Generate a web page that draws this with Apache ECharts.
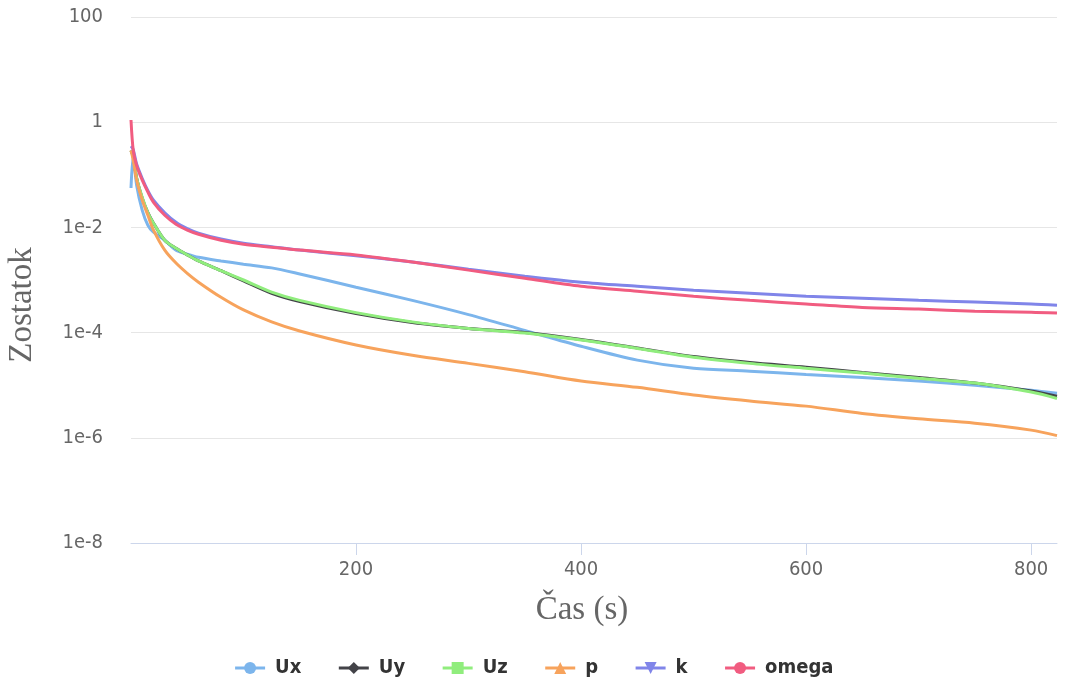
<!DOCTYPE html>
<html>
<head>
<meta charset="utf-8">
<script src="https://cdn.jsdelivr.net/npm/echarts@6/dist/echarts.min.js"></script>
<style>
  html, body { margin: 0; padding: 0; background: #fff; }
  #chart { width: 1067px; height: 686px; }
</style>
</head>
<body>
<div id="chart"></div>
<script>
// time steps (s)
var times = [0, 2, 5, 10, 15, 20, 30, 40, 50, 60, 80, 100, 125, 150, 200, 250, 300, 350, 400, 450, 500, 550, 600, 650, 700, 750, 800, 823]

var ux = [0.056, 0.23, 0.063, 0.021, 0.011, 0.0081, 0.0057, 0.0037, 0.0031, 0.0027, 0.0023, 0.0020, 0.0017, 0.0013, 7.3e-4, 4.1e-4, 2.2e-4, 1.1e-4, 5.5e-5, 3.0e-5, 2.1e-5, 1.85e-5, 1.6e-5, 1.4e-5, 1.2e-5, 1.0e-5, 8e-6, 7e-6]
var uy = [0.29, 0.22, 0.087, 0.036, 0.019, 0.012, 0.0057, 0.0040, 0.0030, 0.0023, 0.0015, 9.6e-4, 5.6e-4, 3.9e-4, 2.3e-4, 1.55e-4, 1.2e-4, 1.0e-4, 7.4e-5, 5.1e-5, 3.5e-5, 2.7e-5, 2.2e-5, 1.75e-5, 1.4e-5, 1.1e-5, 7.8e-6, 6.2e-6]
var uz = [0.29, 0.22, 0.087, 0.037, 0.019, 0.012, 0.0057, 0.0040, 0.0030, 0.0023, 0.0015, 0.0010, 5.9e-4, 4.1e-4, 2.4e-4, 1.6e-4, 1.2e-4, 9.8e-5, 7.2e-5, 5.0e-5, 3.4e-5, 2.6e-5, 2.1e-5, 1.7e-5, 1.35e-5, 1.1e-5, 7.4e-6, 5.6e-6]
var p = [0.29, 0.19, 0.079, 0.033, 0.017, 0.0089, 0.0037, 0.0021, 0.00134, 9.1e-4, 4.7e-4, 2.7e-4, 1.6e-4, 1.07e-4, 5.8e-5, 3.7e-5, 2.6e-5, 1.8e-5, 1.2e-5, 9.1e-6, 6.5e-6, 5.0e-6, 4.0e-6, 2.9e-6, 2.3e-6, 1.9e-6, 1.4e-6, 1.1e-6]
var k = [0.35, 0.3, 0.16, 0.085, 0.05, 0.033, 0.019, 0.0125, 0.0095, 0.0078, 0.006, 0.005, 0.0043, 0.0037, 0.0029, 0.0022, 0.0016, 0.00118, 9.1e-4, 7.6e-4, 6.4e-4, 5.6e-4, 4.9e-4, 4.5e-4, 4.1e-4, 3.8e-4, 3.5e-4, 3.3e-4]
var omega = [1.1, 0.29, 0.15, 0.079, 0.047, 0.030, 0.017, 0.0115, 0.0089, 0.0074, 0.0057, 0.0048, 0.0042, 0.0037, 0.0030, 0.0022, 0.00154, 0.00108, 7.6e-4, 6.1e-4, 4.9e-4, 4.1e-4, 3.5e-4, 3.0e-4, 2.8e-4, 2.56e-4, 2.45e-4, 2.35e-4]

var yTickLabels = { '2': '100', '0': '1', '-2': '1e-2', '-4': '1e-4', '-6': '1e-6', '-8': '1e-8' }

var seriesDefs = [
  { name: 'Ux', data: ux, color: '#7cb5ec', symbol: 'circle' },
  { name: 'Uy', data: uy, color: '#434348', symbol: 'diamond' },
  { name: 'Uz', data: uz, color: '#90ed7d', symbol: 'rect' },
  { name: 'p', data: p, color: '#f7a35c', symbol: 'triangle' },
  { name: 'k', data: k, color: '#8085e9', symbol: 'path://M0,0 L10,0 L5,10 Z' },
  { name: 'omega', data: omega, color: '#f15c80', symbol: 'circle' }
]

function pairs(vals) {
  return times.map(function(t, i) { return [t, vals[i]] })
}

var chart = echarts.init(document.getElementById('chart'))
chart.setOption({
  animation: false,
  grid: {
    left: 131,
    right: 10,
    top: 17,
    bottom: 143,
    outerBoundsMode: 'none'
  },
  legend: {
    bottom: 3,
    left: 'center',
    itemGap: 36,
    itemWidth: 30,
    itemHeight: 15,
    lineStyle: { width: 3 },
    textStyle: {
      fontFamily: 'DejaVu Sans Condensed',
      fontWeight: 'bold',
      fontSize: 20,
      color: '#333333',
      padding: [0, 0, 0, 5]
    }
  },
  xAxis: {
    type: 'value',
    min: 0,
    max: 823,
    interval: 200,
    name: 'Čas (s)',
    nameLocation: 'middle',
    nameGap: 51,
    nameTextStyle: {
      fontFamily: 'Liberation Serif',
      fontSize: 33,
      color: '#666666',
      padding: [0, 24, 0, 0]
    },
    axisLine: { lineStyle: { color: '#ccd6eb', width: 1 } },
    axisTick: { show: true, length: 12, lineStyle: { color: '#ccd6eb' } },
    splitLine: { show: false },
    axisLabel: {
      showMinLabel: false,
      showMaxLabel: false,
      margin: 17,
      fontFamily: 'DejaVu Sans Condensed',
      fontSize: 20,
      color: '#666666'
    }
  },
  yAxis: {
    type: 'log',
    logBase: 10,
    min: 1e-8,
    max: 100,
    interval: 2,
    name: 'Zostatok',
    nameLocation: 'middle',
    nameGap: 92,
    nameTextStyle: {
      fontFamily: 'Liberation Serif',
      fontSize: 33,
      color: '#666666',
      padding: [0, 50, 0, 0]
    },
    axisLine: { show: false },
    axisTick: { show: false },
    splitLine: { lineStyle: { color: '#e6e6e6', width: 1 } },
    axisLabel: {
      margin: 28,
      fontFamily: 'DejaVu Sans Condensed',
      fontSize: 20,
      color: '#666666',
      formatter: function(v) {
        var e = Math.round(Math.log10(v))
        return yTickLabels[String(e)] || ''
      }
    }
  },
  series: seriesDefs.map(function(s) {
    return {
      name: s.name,
      type: 'line',
      smooth: 0.3,
      showSymbol: false,
      symbol: s.symbol,
      symbolSize: 11,
      color: s.color,
      lineStyle: { width: 3, color: s.color },
      data: pairs(s.data)
    }
  })
})
</script>
</body>
</html>
